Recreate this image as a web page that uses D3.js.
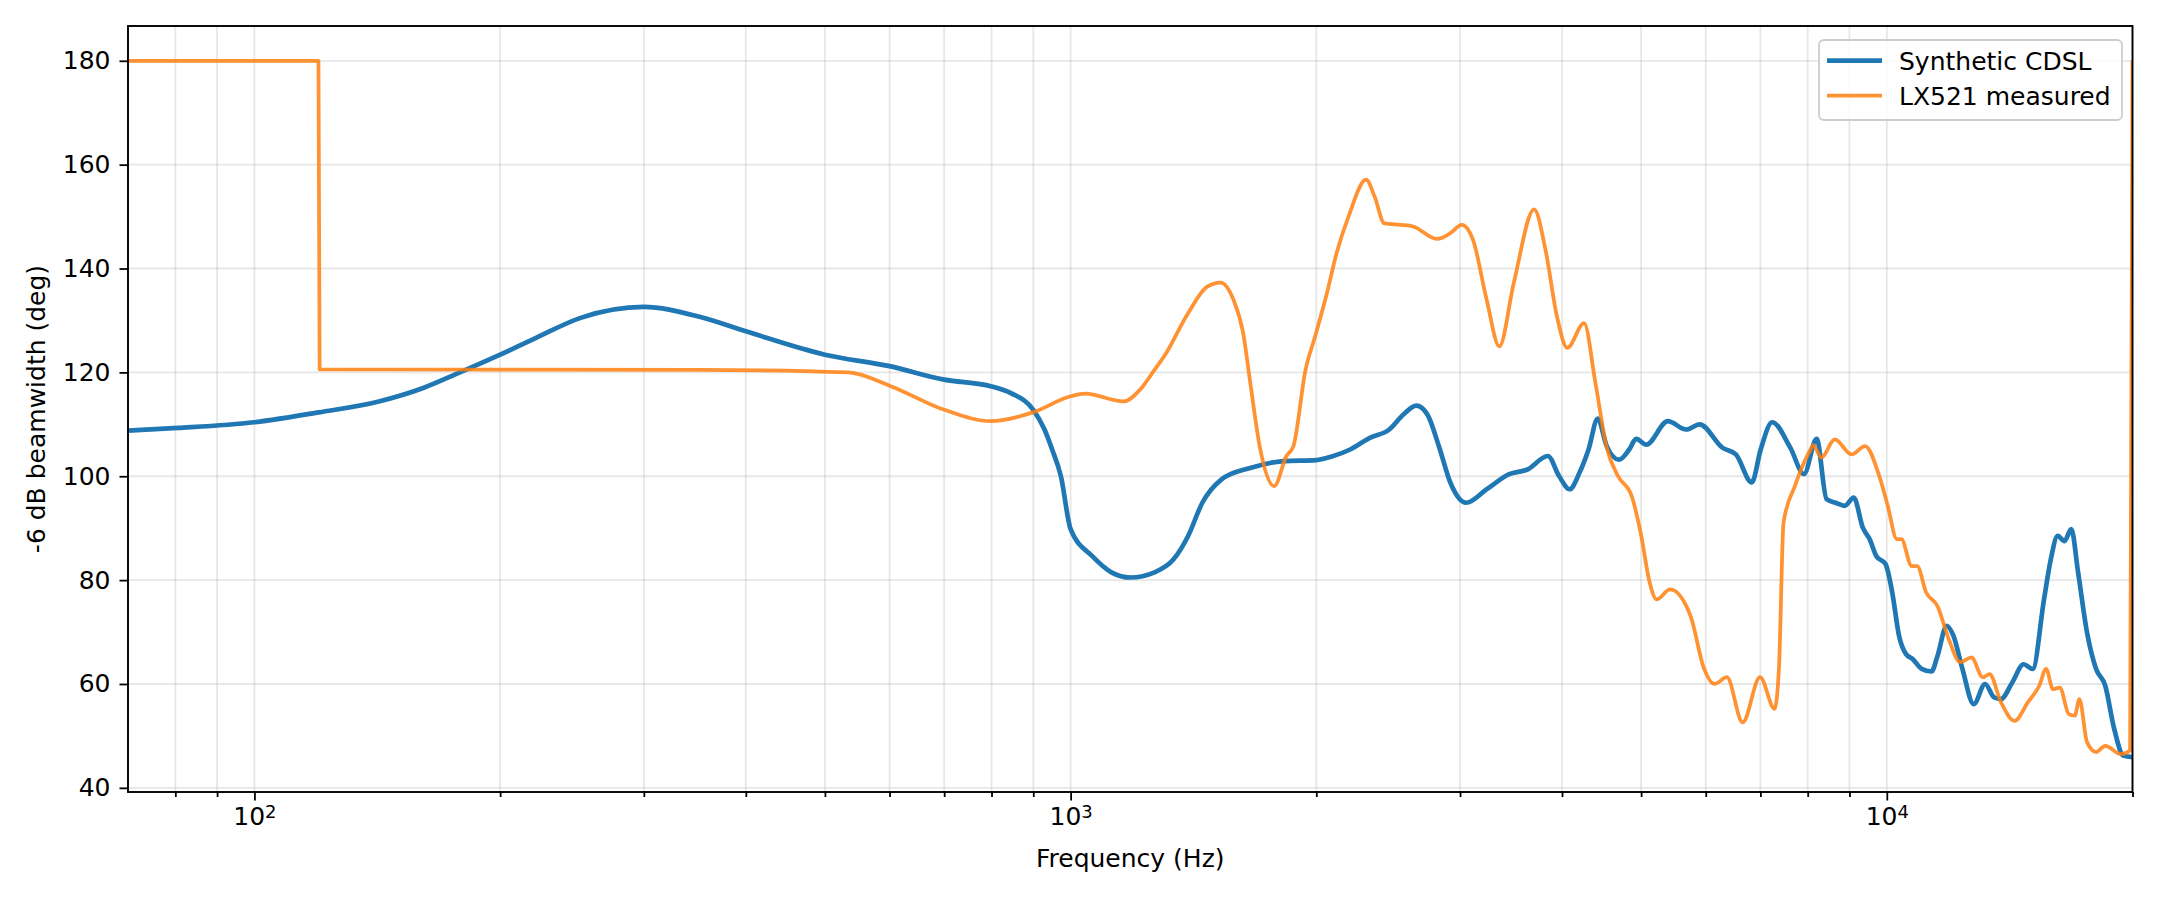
<!DOCTYPE html>
<html>
<head>
<meta charset="utf-8">
<script src="https://cdn.jsdelivr.net/npm/d3@7"></script>
<style>
  body { margin: 0; background: #fff; }
  text { font-family: "DejaVu Sans", sans-serif; }
</style>
</head>
<body>
<div id="beam_chart"></div>
<script>
// frequency (Hz) and -6 dB beamwidth (deg)
var cdslFreq = [70, 80.6, 100, 120, 142, 161, 178, 200, 221, 251, 300, 351, 400, 500, 600, 700, 800, 845, 900, 929,
    948, 973, 1000, 1063, 1122, 1184, 1267, 1337, 1393, 1450, 1531, 1660, 1825, 2000, 2089, 2204, 2326, 2457, 2557, 2652,
    2736, 2830, 2919, 3053, 3234, 3447, 3628, 3843, 3968, 4087, 4203, 4312, 4424, 4538, 4697, 4837, 4931, 5072, 5392, 5677,
    5898, 6288, 6533, 6832, 7008, 7236, 7617, 7915, 8204, 8437, 8656, 8881, 9110, 9346, 9526, 9711, 9963, 10155, 10351, 10552,
    10755, 11034, 11345, 11537, 11838, 12066, 12378, 12780, 13195, 13537, 13799, 14248, 14711, 15091, 15582, 15883, 16193, 16505, 16828, 17155,
    17593, 18049, 18516, 18997, 19487, 20000];
var cdslBeam = [108.8, 109.3, 110.4, 112.3, 114.4, 117.0, 119.9, 123.4, 126.6, 130.5, 132.6, 130.7, 127.9, 123.4, 121.2, 118.6, 117.3, 116.0, 112.8, 109.0,
    105.4, 100.0, 89.8, 84.6, 81.5, 80.5, 81.5, 84.0, 88.5, 94.9, 99.4, 101.6, 102.9, 103.1, 103.8, 105.2, 107.4, 109.0, 111.9, 113.6,
    111.9, 105.5, 98.8, 94.9, 97.5, 100.4, 101.3, 103.9, 100.0, 97.5, 100.7, 105.2, 111.1, 105.8, 103.2, 105.2, 107.2, 106.1, 110.6, 109.0,
    110.0, 105.5, 104.2, 98.8, 105.2, 110.4, 105.5, 100.4, 107.2, 95.6, 94.9, 94.3, 95.9, 90.1, 87.9, 84.6, 83.1, 77.6, 69.3, 65.8,
    64.8, 62.9, 62.4, 65.4, 71.2, 69.3, 62.9, 56.1, 60.0, 57.4, 57.1, 60.3, 63.8, 62.9, 76.3, 84.0, 88.5, 87.5, 89.8, 81.5,
    69.9, 62.9, 59.7, 51.3, 46.2, 45.9];

var lxFreq = [70, 119.8, 120.2, 351, 534, 603, 700, 799, 899, 1000, 1042, 1161, 1217, 1267, 1302, 1393, 1470, 1527, 1583, 1627,
    1660, 1706, 1776, 1838, 1875, 1940, 1993, 2061, 2118, 2190, 2302, 2358, 2423, 2541, 2628, 2811, 2919, 3015, 3112, 3234,
    3352, 3491, 3698, 3818, 3943, 4060, 4257, 4395, 4538, 4686, 4868, 4994, 5123, 5222, 5427, 5748, 5973, 6151, 6368, 6659,
    6993, 7287, 7379, 7473, 7715, 7915, 8068, 8123, 8312, 8636, 9051, 9406, 9773, 10027, 10287, 10417, 10728, 10895, 11175, 11537,
    11912, 12297, 12697, 13111, 13363, 13799, 14335, 14893, 15379, 15676, 15979, 16290, 16711, 16996, 17216, 17593, 18049, 18516, 19364, 19866,
    20000];
var lxBeam = [180, 180, 120.6, 120.5, 120.0, 117.3, 112.8, 110.6, 112.3, 115.4, 115.9, 114.4, 116.7, 120.5, 123.1, 131.4, 136.5, 137.3, 134.0, 127.6,
    118.0, 105.5, 98.1, 103.9, 105.8, 120.5, 126.9, 135.3, 143.0, 150.0, 157.1, 153.8, 148.7, 148.4, 148.1, 145.7, 146.8, 148.4, 145.5, 134.0,
    125.0, 137.2, 151.4, 143.6, 130.8, 124.7, 129.5, 118.0, 105.5, 100.0, 96.2, 89.1, 79.5, 76.3, 78.2, 73.1, 62.9, 60.0, 61.3, 52.6,
    61.3, 55.2, 63.5, 91.1, 98.1, 102.6, 105.2, 106.0, 103.6, 107.1, 104.2, 105.8, 100.4, 94.3, 87.9, 87.9, 82.7, 82.7, 77.6, 75.0,
    68.6, 64.2, 65.1, 61.3, 61.9, 56.5, 52.9, 56.5, 59.7, 62.9, 59.0, 59.3, 54.2, 53.9, 57.1, 48.8, 46.9, 48.1, 46.5, 47.2,
    180];

var seriesNames = ["Synthetic CDSL", "LX521 measured"];
var yTicks = [40, 60, 80, 100, 120, 140, 160, 180];
var xMajor = [100, 1000, 10000];
var xMinor = [80, 90, 200, 300, 400, 500, 600, 700, 800, 900, 2000, 3000, 4000, 5000, 6000, 7000, 8000, 9000, 20000];

var fs = 25;
var margin = {top: 26, right: 27.5, bottom: 108, left: 128},
    width = 2160 - margin.left - margin.right,
    height = 900 - margin.top - margin.bottom;

var svg = d3.select("#beam_chart")
    .append("svg")
    .attr("width", 2160)
    .attr("height", 900)
    .append("g")
    .attr("transform", "translate(" + margin.left + "," + margin.top + ")");

var x = d3.scaleLog().domain([70, 20000]).range([0, width]);
var y = d3.scaleLinear().domain([39.2, 186.7]).range([height, 0]);

// grid
svg.append("g").selectAll("line.vg")
    .data(xMajor.concat(xMinor))
    .enter().append("line")
    .attr("x1", function(d) { return x(d) }).attr("x2", function(d) { return x(d) })
    .attr("y1", 0).attr("y2", height)
    .attr("stroke", "#b0b0b0").attr("stroke-opacity", 0.3).attr("stroke-width", 1.8);
svg.append("g").selectAll("line.hg")
    .data(yTicks)
    .enter().append("line")
    .attr("x1", 0).attr("x2", width)
    .attr("y1", function(d) { return y(d) }).attr("y2", function(d) { return y(d) })
    .attr("stroke", "#b0b0b0").attr("stroke-opacity", 0.3).attr("stroke-width", 1.8);

svg.append("clipPath").attr("id", "clip")
    .append("rect").attr("width", width).attr("height", height);

var line = d3.line()
    .x(function(d) { return x(d[0]) })
    .y(function(d) { return y(d[1]) })
    .curve(d3.curveMonotoneX);

// Synthetic CDSL
svg.append("path")
    .datum(d3.zip(cdslFreq, cdslBeam))
    .attr("clip-path", "url(#clip)")
    .attr("fill", "none")
    .attr("stroke", "#1f77b4")
    .attr("stroke-width", 4.7)
    .attr("stroke-linejoin", "round")
    .attr("d", line);

// LX521 measured
svg.append("path")
    .datum(d3.zip(lxFreq, lxBeam))
    .attr("clip-path", "url(#clip)")
    .attr("fill", "none")
    .attr("stroke", "#ff7f0e")
    .attr("stroke-opacity", 0.85)
    .attr("stroke-width", 3.75)
    .attr("stroke-linejoin", "round")
    .attr("d", line);

// X axis
var xAxis = svg.append("g")
    .attr("transform", "translate(0," + height + ")")
    .call(d3.axisBottom(x).tickValues(xMajor).tickSize(8.5).tickPadding(7).tickSizeOuter(0)
        .tickFormat(function() { return "" }));
xAxis.selectAll(".tick text").each(function(d) {
    var t = d3.select(this);
    t.append("tspan").text("10");
    t.append("tspan").attr("dy", "-0.42em").attr("font-size", "0.72em").text(Math.round(Math.log10(d)));
});
svg.append("g")
    .attr("transform", "translate(0," + height + ")")
    .call(d3.axisBottom(x).tickValues(xMinor).tickSize(5).tickSizeOuter(0).tickFormat(function() { return "" }));

// Y axis
svg.append("g")
    .call(d3.axisLeft(y).tickValues(yTicks).tickSize(8.5).tickPadding(9).tickSizeOuter(0));

svg.selectAll(".domain").remove();
svg.selectAll(".tick line").attr("stroke", "#000").attr("stroke-width", 1.8);
svg.selectAll(".tick text").attr("font-size", fs).attr("fill", "#000")
    .attr("font-family", "DejaVu Sans, sans-serif");

// frame
svg.append("rect")
    .attr("width", width).attr("height", height)
    .attr("fill", "none").attr("stroke", "#000").attr("stroke-width", 1.9);

// axis labels
svg.append("text")
    .attr("x", width / 2).attr("y", 867 - margin.top)
    .attr("text-anchor", "middle").attr("font-size", fs)
    .text("Frequency (Hz)");
svg.append("text")
    .attr("transform", "translate(" + (45 - margin.left) + "," + (height / 2) + ") rotate(-90)")
    .attr("text-anchor", "middle").attr("font-size", fs)
    .text("-6 dB beamwidth (deg)");

// legend
var lg = svg.append("g").attr("transform", "translate(" + (1819 - margin.left) + "," + (40 - margin.top) + ")");
lg.append("rect")
    .attr("width", 303).attr("height", 80).attr("rx", 5)
    .attr("fill", "#fff").attr("fill-opacity", 0.8)
    .attr("stroke", "#cccccc").attr("stroke-width", 1.8);
var colors = ["#1f77b4", "#ff7f0e"];
var widths = [4.7, 3.75];
seriesNames.forEach(function(name, i) {
    var ly = 20.7 + i * 35;
    lg.append("line")
        .attr("x1", 8).attr("x2", 63).attr("y1", ly).attr("y2", ly)
        .attr("stroke", colors[i]).attr("stroke-width", widths[i])
        .attr("stroke-opacity", i == 1 ? 0.85 : 1);
    lg.append("text")
        .attr("x", 80).attr("y", ly + 9)
        .attr("font-size", fs)
        .text(name);
});
</script>
</body>
</html>
